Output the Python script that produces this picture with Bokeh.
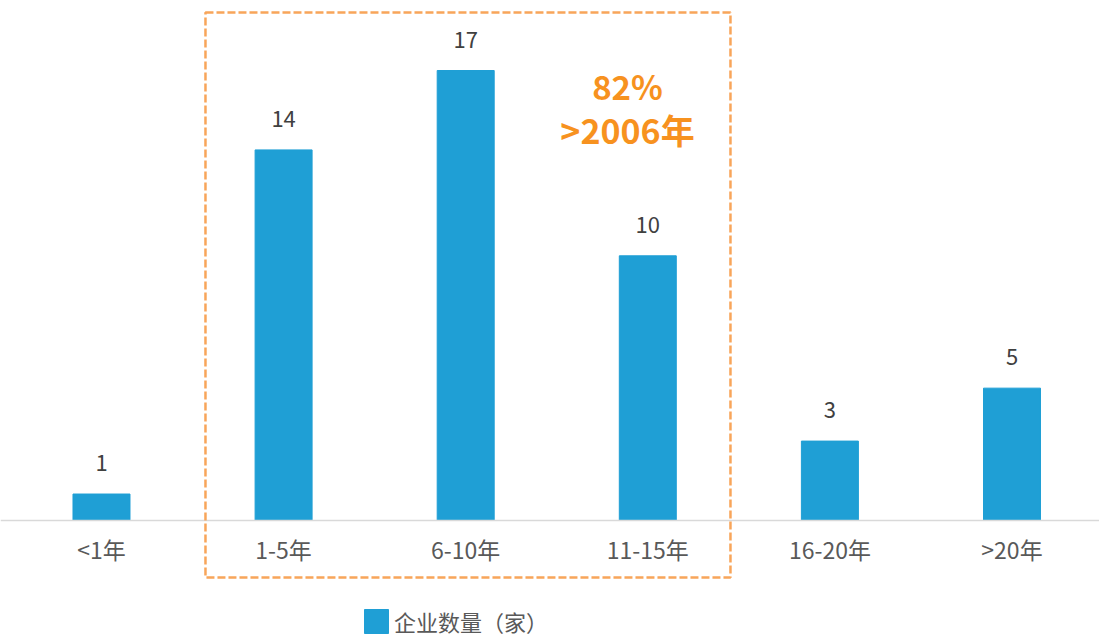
from bokeh.plotting import figure
from bokeh.models import ColumnDataSource, Range1d, LabelSet, BoxAnnotation, Label, Legend, LegendItem
from bokeh.core.properties import value
from bokeh.embed import file_html
from bokeh.resources import INLINE

categories = ["<1年", "1-5年", "6-10年", "11-15年", "16-20年", ">20年"]
counts = [1, 14, 17, 10, 3, 5]
series_name = "企业数量（家）"
note_pct = "82%"
note_year = ">2006年"

FONT = "Noto Sans CJK SC"
BAR = "#1f9fd5"
ORANGE = "#f7921f"

xs = list(range(len(categories)))
src = ColumnDataSource(dict(x=xs, top=counts, label=[str(v) for v in counts], cat=categories))

p = figure(width=1099, height=639, output_backend="svg", toolbar_location=None,
           x_range=Range1d(-0.5546, 5.4805), y_range=Range1d(-4.496, 19.645),
           min_border=0, min_border_left=0, min_border_right=0, min_border_top=0, min_border_bottom=0)
p.outline_line_color = None
p.xgrid.visible = False
p.ygrid.visible = False
p.yaxis.visible = False
p.background_fill_color = "white"
p.border_fill_color = "white"

r = p.vbar(x="x", top="top", width=0.313, bottom=0, source=src, color=BAR)

ax = p.xaxis[0]
ax.fixed_location = 0
ax.ticker = xs
ax.major_label_overrides = {i: c for i, c in enumerate(categories)}
ax.axis_line_color = "#d9d9d9"
ax.axis_line_width = 1.5
ax.major_tick_line_color = None
ax.minor_tick_line_color = None
ax.major_tick_out = 0
ax.major_tick_in = 0
ax.major_label_standoff = 12
ax.major_label_text_font = FONT
ax.major_label_text_font_size = "23px"
ax.major_label_text_color = "#595959"

labels = LabelSet(x="x", y="top", text="label", source=src, y_offset=31,
                  text_align="center", text_baseline="middle",
                  text_font=value(FONT), text_font_size=value("22px"), text_color="#404040")
p.add_layout(labels)

# highlight box around categories 1..3
box = BoxAnnotation(left=1 - 0.429, right=3 + 0.454, bottom=-2.153, top=19.192,
                    fill_color=None, fill_alpha=0, line_color="#f8a55a", line_alpha=1.0,
                    line_width=2.5, line_dash="8 3")
p.add_layout(box)

for txt, yy, fs in [(note_pct, 16.415, "33px"), (note_year, 14.756, "34px")]:
    p.add_layout(Label(x=2.8886, y=yy, text=txt, text_align="center", text_baseline="middle",
                       text_font=FONT, text_font_size=fs, text_font_style="bold",
                       text_color=ORANGE))

legend = Legend(items=[LegendItem(label=series_name, renderers=[r])],
                location=(361, 2), padding=0, margin=0, spacing=0,
                glyph_width=30, glyph_height=30, label_standoff=3,
                label_text_font=FONT, label_text_font_size="22px", label_text_color="#595959",
                border_line_color=None, background_fill_alpha=0)
p.add_layout(legend)

open("out.html", "w").write(file_html(p, INLINE))
